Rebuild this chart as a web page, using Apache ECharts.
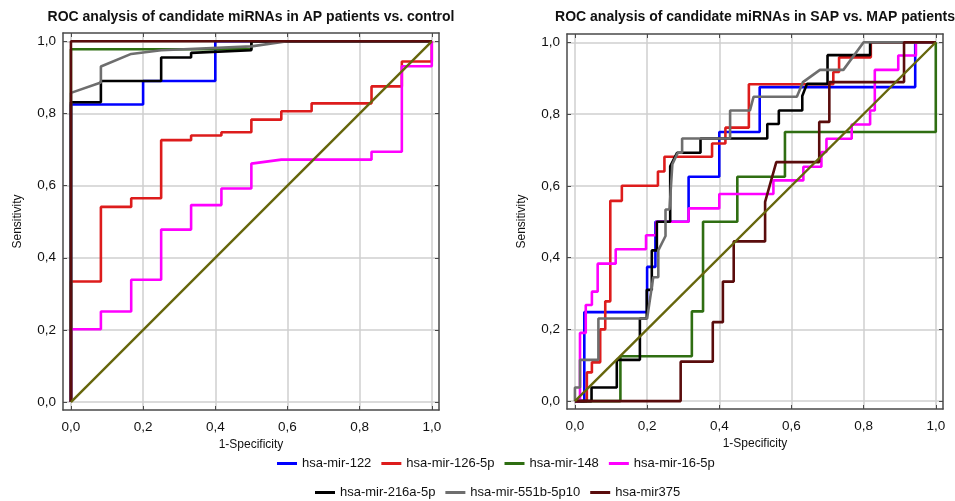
<!DOCTYPE html>
<html>
<head>
<meta charset="utf-8">
<title>ROC analysis of candidate miRNAs</title>
<script src="https://cdn.jsdelivr.net/npm/echarts@6/dist/echarts.min.js"></script>
<style>
  html, body { margin: 0; padding: 0; background: #fff; }
  #chart { width: 955px; height: 501px; }
</style>
</head>
<body>
<div id="chart"></div>
<script>
// series names and colours, in legend order
const MIRNA_NAMES = [
  'hsa-mir-122', 'hsa-mir-126-5p', 'hsa-mir-148', 'hsa-mir-16-5p',
  'hsa-mir-216a-5p', 'hsa-mir-551b-5p10', 'hsa-mir375'
]
const MIRNA_COLORS = ['#0000ff', '#dd1c1c', '#2f6e12', '#ff00ff', '#000000', '#6e6e6e', '#5a0c0c']

const AXIS_TICKS = [0, 0.2, 0.4, 0.6, 0.8, 1]
const CHANCE_LINE = [[0, 0], [1, 1]]

// AP patients vs. control: [1-specificity, sensitivity]
const apMir122 = [[0, 0], [0, 0.825], [0.2, 0.825], [0.2, 0.89], [0.4, 0.89], [0.4, 1], [1, 1]]
const apMir126 = [[0, 0], [0, 0.334], [0.083, 0.334], [0.083, 0.541], [0.167, 0.541], [0.167, 0.565],
  [0.25, 0.565], [0.25, 0.726], [0.333, 0.726], [0.333, 0.739], [0.417, 0.739], [0.417, 0.748],
  [0.5, 0.748], [0.5, 0.783], [0.583, 0.783], [0.583, 0.806], [0.667, 0.806], [0.667, 0.828],
  [0.833, 0.828], [0.833, 0.875], [0.917, 0.875], [0.917, 0.944], [1, 0.944], [1, 1]]
const apMir148 = [[0, 0], [0, 0.978], [0.5, 0.978], [0.5, 1], [1, 1]]
const apMir16 = [[0, 0], [0, 0.202], [0.083, 0.202], [0.083, 0.251], [0.167, 0.251], [0.167, 0.339],
  [0.25, 0.339], [0.25, 0.478], [0.333, 0.478], [0.333, 0.546], [0.417, 0.546], [0.417, 0.592],
  [0.5, 0.592], [0.5, 0.661], [0.583, 0.672], [0.833, 0.672], [0.833, 0.694], [0.917, 0.694],
  [0.917, 0.931], [1, 0.931], [1, 1]]
const apMir216a = [[0, 0], [0, 0.831], [0.083, 0.831], [0.083, 0.89], [0.25, 0.89], [0.25, 0.955],
  [0.333, 0.955], [0.333, 0.968], [0.5, 0.975], [0.5, 1], [1, 1]]
const apMir551b = [[0, 0], [0, 0.857], [0.083, 0.886], [0.083, 0.93], [0.167, 0.965], [0.25, 0.975],
  [0.5, 0.986], [0.6, 1], [1, 1]]
const apMir375 = [[0, 0], [0, 1], [1, 1]]

// SAP vs. MAP patients: [1-specificity, sensitivity]
const sapMir122 = [[0, 0], [0.026, 0], [0.026, 0.248], [0.2, 0.248], [0.2, 0.374], [0.223, 0.374],
  [0.223, 0.5], [0.315, 0.5], [0.315, 0.625], [0.4, 0.625], [0.4, 0.75], [0.512, 0.75],
  [0.512, 0.875], [0.943, 0.875], [0.943, 1], [1, 1]]
const sapMir126 = [[0, 0], [0.033, 0], [0.033, 0.08], [0.047, 0.08], [0.047, 0.108], [0.07, 0.108],
  [0.07, 0.2], [0.084, 0.2], [0.084, 0.278], [0.098, 0.278], [0.098, 0.558], [0.13, 0.558],
  [0.13, 0.6], [0.23, 0.6], [0.23, 0.64], [0.248, 0.64], [0.248, 0.681], [0.38, 0.681],
  [0.38, 0.718], [0.417, 0.718], [0.417, 0.762], [0.482, 0.762], [0.482, 0.883], [0.716, 0.883],
  [0.716, 0.917], [0.732, 0.917], [0.732, 0.958], [0.82, 0.958], [0.82, 1], [1, 1]]
const sapMir148 = [[0, 0], [0.126, 0], [0.126, 0.125], [0.324, 0.125], [0.324, 0.25], [0.355, 0.25],
  [0.355, 0.5], [0.45, 0.5], [0.45, 0.625], [0.582, 0.625], [0.582, 0.75], [1, 0.75], [1, 1]]
const sapMir16 = [[0, 0], [0.014, 0], [0.014, 0.19], [0.03, 0.19], [0.03, 0.268], [0.047, 0.268],
  [0.047, 0.305], [0.063, 0.305], [0.063, 0.383], [0.113, 0.383], [0.113, 0.423], [0.197, 0.423],
  [0.197, 0.462], [0.225, 0.462], [0.225, 0.5], [0.315, 0.5], [0.315, 0.537], [0.4, 0.537],
  [0.4, 0.577], [0.55, 0.577], [0.55, 0.615], [0.633, 0.615], [0.633, 0.653], [0.683, 0.653],
  [0.683, 0.694], [0.697, 0.694], [0.697, 0.731], [0.767, 0.731], [0.767, 0.771], [0.818, 0.771],
  [0.818, 0.81], [0.831, 0.81], [0.831, 0.923], [0.896, 0.923], [0.896, 0.963], [0.945, 0.963],
  [0.945, 1], [1, 1]]
const sapMir216a = [[0, 0], [0.046, 0], [0.046, 0.038], [0.116, 0.038], [0.116, 0.115], [0.18, 0.115],
  [0.18, 0.23], [0.199, 0.23], [0.199, 0.31], [0.213, 0.31], [0.213, 0.42], [0.227, 0.42],
  [0.227, 0.5], [0.264, 0.5], [0.264, 0.654], [0.283, 0.692], [0.348, 0.692], [0.348, 0.732],
  [0.533, 0.732], [0.533, 0.772], [0.565, 0.772], [0.565, 0.81], [0.63, 0.81], [0.63, 0.85],
  [0.643, 0.884], [0.7, 0.884], [0.7, 0.964], [0.818, 0.964], [0.818, 1], [1, 1]]
const sapMir551b = [[0, 0], [0, 0.038], [0.014, 0.038], [0.014, 0.115], [0.065, 0.115], [0.065, 0.23],
  [0.2, 0.23], [0.217, 0.345], [0.231, 0.345], [0.231, 0.42], [0.251, 0.46], [0.251, 0.534],
  [0.262, 0.534], [0.27, 0.66], [0.285, 0.692], [0.297, 0.692], [0.297, 0.732], [0.43, 0.732],
  [0.43, 0.81], [0.485, 0.81], [0.495, 0.848], [0.615, 0.848], [0.632, 0.889], [0.679, 0.923],
  [0.744, 0.923], [0.8, 1], [1, 1]]
const sapMir375 = [[0, 0], [0.293, 0], [0.293, 0.11], [0.382, 0.11], [0.382, 0.22], [0.41, 0.22],
  [0.41, 0.333], [0.44, 0.333], [0.44, 0.445], [0.527, 0.445], [0.527, 0.555], [0.558, 0.666],
  [0.677, 0.666], [0.677, 0.778], [0.705, 0.778], [0.705, 0.889], [0.912, 0.889], [0.912, 1], [1, 1]]

const AP_CURVES = [apMir122, apMir126, apMir148, apMir16, apMir216a, apMir551b, apMir375]
const SAP_CURVES = [sapMir122, sapMir126, sapMir148, sapMir16, sapMir216a, sapMir551b, sapMir375]

const FONT = 'Liberation Sans, Arial, sans-serif'
const FRAME_COLOR = '#4a4a4a'
const GRID_LINE_COLOR = '#cfcfcf'

const formatTick = (v) => v.toFixed(1).replace('.', ',')

// one main axis (with labels and grid lines) and one mirrored axis (ticks only)
const buildAxis = (gridIndex, position, isMain) => ({
  type: 'value',
  gridIndex,
  position,
  min: -0.022,
  max: position === 'left' || position === 'right' ? 1.023 : 1.02,
  name: isMain ? (position === 'bottom' ? '1-Specificity' : 'Sensitivity') : '',
  nameLocation: 'middle',
  nameGap: position === 'bottom' ? 29 : 39,
  nameTextStyle: { fontFamily: FONT, fontSize: 12, color: '#111' },
  axisLine: { show: true, onZero: false, lineStyle: { color: FRAME_COLOR, width: 1.5 } },
  axisTick: { show: true, inside: true, length: 4, customValues: AXIS_TICKS, lineStyle: { color: FRAME_COLOR } },
  axisLabel: {
    show: isMain,
    customValues: AXIS_TICKS,
    formatter: formatTick,
    margin: position === 'bottom' ? 10 : 7,
    fontFamily: FONT,
    fontSize: 13.5,
    color: '#111'
  },
  splitLine: { show: isMain, lineStyle: { color: GRID_LINE_COLOR, width: 1.5 } }
})

const buildSeries = (curves, axisIndex) => {
  const series = curves.map((data, i) => ({
    name: MIRNA_NAMES[i],
    type: 'line',
    xAxisIndex: axisIndex,
    yAxisIndex: axisIndex,
    data,
    symbol: 'none',
    lineStyle: { color: MIRNA_COLORS[i], width: 2.6 },
    itemStyle: { color: MIRNA_COLORS[i] }
  }))
  series.push({
    type: 'line',
    xAxisIndex: axisIndex,
    yAxisIndex: axisIndex,
    data: CHANCE_LINE,
    symbol: 'none',
    lineStyle: { color: '#66660c', width: 2.4 }
  })
  return series
}

const legendStyle = {
  icon: 'rect',
  padding: 0,
  itemWidth: 20,
  itemHeight: 3,
  itemGap: 10,
  textStyle: { fontFamily: FONT, fontSize: 13, color: '#111' }
}

const titleStyle = { fontFamily: FONT, fontSize: 14, fontWeight: 'bold', color: '#111' }

const option = {
  animation: false,
  backgroundColor: '#fff',
  title: [
    {
      text: 'ROC analysis of candidate miRNAs in AP patients vs. control',
      left: 251, top: 10, padding: 0, textAlign: 'center', textStyle: titleStyle
    },
    {
      text: 'ROC analysis of candidate miRNAs in SAP vs. MAP patients',
      left: 755, top: 10, padding: 0, textAlign: 'center', textStyle: titleStyle
    }
  ],
  legend: [
    { ...legendStyle, data: MIRNA_NAMES.slice(0, 4), left: 277, top: 457 },
    { ...legendStyle, data: MIRNA_NAMES.slice(4), left: 315, top: 486 }
  ],
  grid: [
    { left: 63, top: 33, width: 376, height: 377 },
    { left: 567, top: 34, width: 376, height: 375 }
  ],
  xAxis: [
    buildAxis(0, 'bottom', true),
    buildAxis(1, 'bottom', true),
    buildAxis(0, 'top', false),
    buildAxis(1, 'top', false)
  ],
  yAxis: [
    buildAxis(0, 'left', true),
    buildAxis(1, 'left', true),
    buildAxis(0, 'right', false),
    buildAxis(1, 'right', false)
  ],
  series: [...buildSeries(AP_CURVES, 0), ...buildSeries(SAP_CURVES, 1)]
}

const chart = echarts.init(document.getElementById('chart'), null, { renderer: 'canvas' })
chart.setOption(option)
</script>
</body>
</html>
